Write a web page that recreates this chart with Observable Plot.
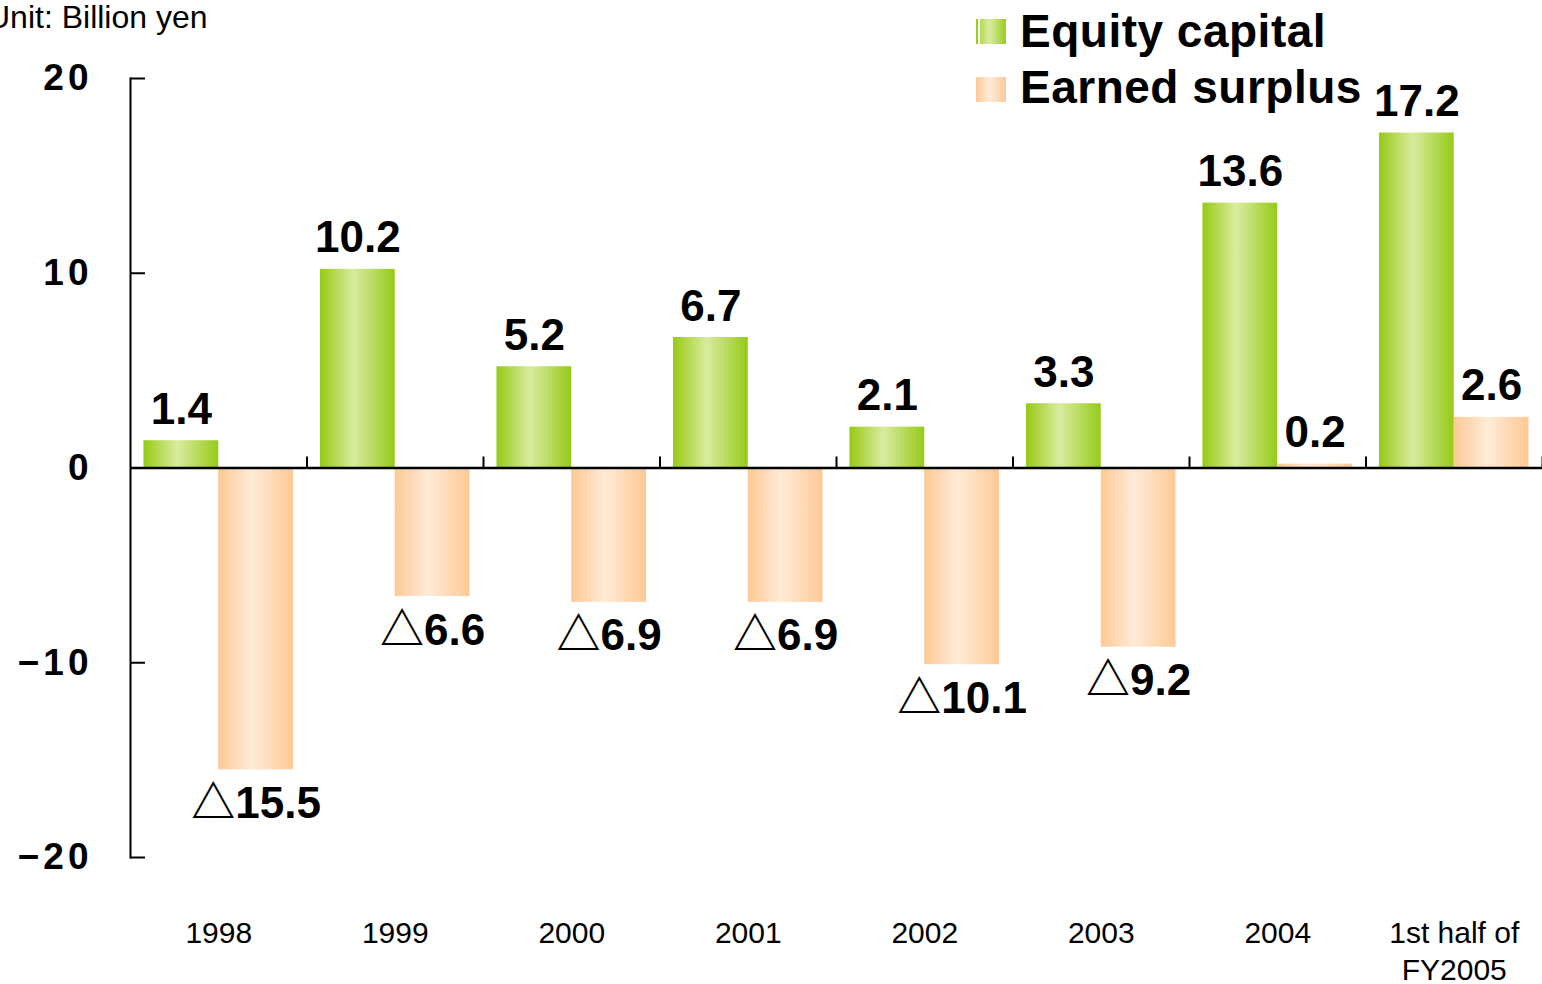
<!DOCTYPE html>
<html><head><meta charset="utf-8">
<script src="https://cdn.jsdelivr.net/npm/d3@7"></script>
<script src="https://cdn.jsdelivr.net/npm/@observablehq/plot@0.6"></script>
<style>
body{margin:0;background:#fff;}
#wrap{position:relative;width:1542px;height:984px;overflow:hidden;font-family:"Liberation Sans",Arial,sans-serif;color:#000;}
#chart{position:absolute;left:0;top:0;}
#unit{position:absolute;left:-13px;top:1px;font-size:32px;line-height:32px;white-space:nowrap;}
.leg{position:absolute;left:1020px;font-size:46px;line-height:46px;font-weight:bold;white-space:nowrap;letter-spacing:0.5px;}
.sw{position:absolute;left:976px;width:30px;height:25px;}
#chart g[aria-label="y-axis tick label"] text{letter-spacing:4px;}
</style>
</head><body>
<svg width="0" height="0" style="position:absolute">
  <defs>
    <linearGradient id="gEq" x1="0" x2="1" y1="0" y2="0">
      <stop offset="0" stop-color="#96ca14"/>
      <stop offset="0.45" stop-color="#d9eba0"/>
      <stop offset="1" stop-color="#96ca18"/>
    </linearGradient>
    <linearGradient id="gSurp" x1="0" x2="1" y1="0" y2="0">
      <stop offset="0" stop-color="#fdc994"/>
      <stop offset="0.45" stop-color="#ffebd8"/>
      <stop offset="1" stop-color="#fdc994"/>
    </linearGradient>
  </defs>
</svg>
<div id="wrap">
  <div id="chart"></div>
  <div id="unit">Unit: Billion yen</div>
  <div class="sw" style="top:19px;background:linear-gradient(to right,#9acd1e 0,#9acd1e 2.5px,#fff 2.5px,#fff 4px,#b3d955 4px,#d9eba0 45%,#9acd22 100%);"></div>
  <div class="sw" style="top:77px;background:linear-gradient(to right,#fdca98 0,#ffebd8 45%,#fdca98 100%);"></div>
  <div class="leg" style="top:8px;">Equity capital</div>
  <div class="leg" style="top:64px;">Earned surplus</div>
</div>
<script>
const categories = ["1998","1999","2000","2001","2002","2003","2004","1st half of\nFY2005"];
const seriesNames = ["Equity capital","Earned surplus"];
const equityCapital = [1.4, 10.2, 5.2, 6.7, 2.1, 3.3, 13.6, 17.2];
const earnedSurplus = [-15.5, -6.6, -6.9, -6.9, -10.1, -9.2, 0.2, 2.6];
const yTicks = [-20, -10, 0, 10, 20];

const rows = categories.flatMap((c, i) => [
  {cat: c, series: seriesNames[0], value: equityCapital[i]},
  {cat: c, series: seriesNames[1], value: earnedSurplus[i]}
]);
const fmt = v => v < 0 ? "\u25B3" + Math.abs(v).toFixed(1) : v.toFixed(1);
const labelFont = "Liberation Sans, Arial, Noto Sans CJK KR, sans-serif";

const chart = Plot.plot({
  width: 1542, height: 984,
  marginLeft: 130, marginRight: 0, marginTop: 78, marginBottom: 127,
  style: {fontFamily: "Liberation Sans, Arial, sans-serif", color: "#000", background: "transparent", overflow: "visible"},
  fx: {domain: categories, padding: 0, round: false, label: null},
  x: {domain: seriesNames, paddingInner: 0, paddingOuter: 0.18, round: false, axis: null},
  y: {domain: [-20, 20], label: null},
  color: {domain: seriesNames, range: ["url(#gEq)", "url(#gSurp)"]},
  marks: [
    Plot.barY(rows, {fx: "cat", x: "series", y: "value", fill: "series"}),
    Plot.ruleY([0], {stroke: "#000", strokeWidth: 2.5}),
    Plot.frame({anchor: "right", insetTop: 379, insetBottom: 390, stroke: "#000", strokeWidth: 2}),
    Plot.frame({anchor: "left", facetAnchor: "left", stroke: "#000", strokeWidth: 2}),
    Plot.axisY(yTicks, {anchor: "left", tickSize: -15, tickPadding: 53, fontSize: 37, fontWeight: "bold", strokeWidth: 2, label: null}),
    Plot.axisFx({anchor: "bottom", tickSize: 0, tickPadding: 59, fontSize: 30, lineHeight: 1.23, label: null}),
    Plot.text(rows.filter(d => d.value >= 0), {fx: "cat", x: "series", y: "value", text: d => fmt(d.value), lineAnchor: "middle", dy: -31, fontSize: 44, fontWeight: "bold", fontFamily: labelFont}),
    Plot.text(rows.filter(d => d.value < 0), {fx: "cat", x: "series", y: "value", text: d => fmt(d.value), lineAnchor: "middle", dy: 34, fontSize: 44, fontWeight: "bold", fontFamily: labelFont})
  ]
});
document.getElementById("chart").appendChild(chart);
</script>
</body></html>
